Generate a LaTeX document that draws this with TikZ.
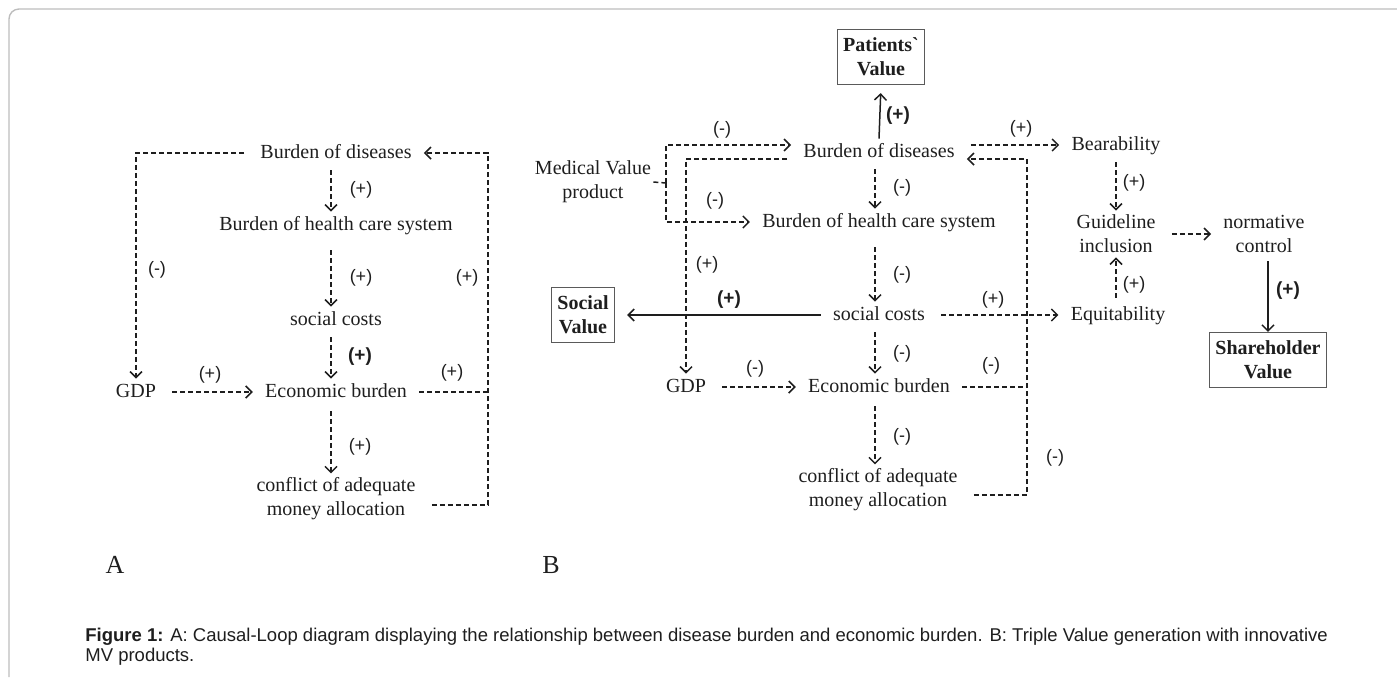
\documentclass[tikz,border=0pt]{standalone}
\usepackage{fontspec}
\setmainfont{Liberation Serif}
\setsansfont{Liberation Sans}
\definecolor{loopInk}{HTML}{1E1E1E}
\definecolor{boxGray}{HTML}{5A5A5A}
\definecolor{frameGray}{HTML}{BDBDBD}
\usetikzlibrary{arrows.meta, positioning, calc}

\begin{document}
\begin{tikzpicture}[x=0.5pt, y=-0.5pt, loopInk,
  var/.style={font=\fontsize{10}{12}\selectfont, inner xsep=6pt, inner ysep=2pt,
    text height=7pt, text depth=2pt},
  var2/.style={font=\fontsize{10}{12}\selectfont, align=center, inner xsep=6pt, inner ysep=2pt},
  sign/.style={font=\sffamily\fontsize{9}{10}\selectfont, inner sep=1pt},
  bsign/.style={font=\sffamily\bfseries\fontsize{9.5}{10}\selectfont, inner sep=1pt},
  valbox/.style={draw=boxGray, line width=0.6pt, font=\bfseries\fontsize{10}{12}\selectfont,
    align=center, inner xsep=3pt, minimum height=27.5pt},
  dashlink/.style={line width=0.75pt, dash pattern=on 2.5pt off 1.5pt},
  dasharrow/.style={dashlink, -{Straight Barb[length=3pt, width=6pt]}, shorten <=2pt},
  solidarrow/.style={line width=0.75pt, -{Straight Barb[length=3pt, width=6pt]}}]
  \useasboundingbox (0,0) rectangle (1397,677);
  \draw[frameGray, line width=0.7pt, rounded corners=5pt] (9,677) |- (1397,9);

  % A: causal loop
  \node[var] (aDis) at (336,153) {Burden of diseases};
  \node[var] (aHcs) at (336,225) {Burden of health care system};
  \node[var] (aSoc) at (336,320) {social costs};
  \node[var] (aEco) at (336,392) {Economic burden};
  \node[var] (aGdp) at (136,392) {GDP};
  \node[var2] (aCon) at (336,499) {conflict of adequate\\money allocation};
  \coordinate (aLoop) at (488,153);

  \draw[dasharrow] ([xshift=-2.5pt]aDis.south) -- ([xshift=-2.5pt]aHcs.north);
  \draw[dasharrow, shorten <=6pt] ([xshift=-2.5pt]aHcs.south) -- ([xshift=-2.5pt]aSoc.north);
  \draw[dasharrow] ([xshift=-2.5pt]aSoc.south) -- ([xshift=-2.5pt]aEco.north);
  \draw[dasharrow, shorten <=3pt] ([xshift=-2.5pt]aEco.south) -- ([xshift=-2.5pt]aCon.north);
  \draw[dasharrow] (aGdp) -- (aEco);
  \draw[dasharrow] (aDis.west) -| (aGdp.north);
  \draw[dashlink] (aEco.east) -- (aEco.east -| aLoop);
  \draw[dasharrow] ([yshift=-3pt]aCon.east) -| (aLoop) -- (aDis.east);

  \node[sign] (aS1) at (361,190) {(+)};
  \node[sign] (aS2) at (361,278) {(+)};
  \node[bsign] (aS3) at (360,357) {(+)};
  \node[sign] (aS4) at (360,447) {(+)};
  \node[sign] (aS5) at (210,375) {(+)};
  \node[sign] (aS6) at (452,373) {(+)};
  \node[sign] (aS7) at (467,278) {(+)};
  \node[sign] (aS8) at (157,270) {(-)};
  \node[font=\fontsize{13}{15}\selectfont] (aTag) at (115,565) {A};

  % B: triple value
  \node[valbox] (bPat) at (881,57) {Patients\textasciigrave\\Value};
  \node[valbox] (bSocV) at (583,315) {Social\\Value};
  \node[valbox] (bSha) at (1268,360) {Shareholder\\Value};
  \node[var] (bDis) at (879,152) {Burden of diseases};
  \node[var2, inner xsep=1pt] (bMed) at (593,182) {Medical Value\\product};
  \node[var] (bHcs) at (879,222) {Burden of health care system};
  \node[var] (bSoc) at (879,315) {social costs};
  \node[var] (bEco) at (879,387) {Economic burden};
  \node[var] (bGdp) at (686,387) {GDP};
  \node[var2] (bCon) at (878,490) {conflict of adequate\\money allocation};
  \node[var] (bBea) at (1116,145) {Bearability};
  \node[var2] (bGui) at (1116,234) {Guideline\\inclusion};
  \node[var2] (bNor) at (1264,234) {normative\\control};
  \node[var] (bEqu) at (1118,315) {Equitability};
  \coordinate (bFork) at (666,183);
  \coordinate (bLoop) at (1027,159);

  \draw[dashlink] (bMed.east) -- (bFork);
  \draw[dasharrow, shorten <=0pt] (bFork) |- ([yshift=3.5pt]bDis.west);
  \draw[dasharrow, shorten <=0pt] (bFork) |- (bHcs.west);
  \draw[dasharrow] ([yshift=-3.5pt]bDis.west) -| (bGdp.north);
  \draw[solidarrow, shorten >=4pt] (bDis.north) -- (bPat.south);
  \draw[dasharrow] ([xshift=-2pt]bDis.south) -- ([xshift=-2pt]bHcs.north);
  \draw[dasharrow, shorten <=6pt] ([xshift=-2pt]bHcs.south) -- ([xshift=-2pt]bSoc.north);
  \draw[dasharrow] ([xshift=-2pt]bSoc.south) -- ([xshift=-2pt]bEco.north);
  \draw[dasharrow, shorten <=3pt] ([xshift=-2pt]bEco.south) -- ([xshift=-1.5pt]bCon.north);
  \draw[dasharrow] (bGdp) -- (bEco);
  \draw[solidarrow, shorten >=6pt] (bSoc.west) -- (bSocV.east);
  \draw[dasharrow] (bSoc) -- (bEqu);
  \draw[dashlink] (bEco.east) -- (bEco.east -| bLoop);
  \draw[dasharrow] ([yshift=-2.5pt]bCon.east) -| (bLoop) -- ([yshift=-3.5pt]bDis.east);
  \draw[dasharrow] ([yshift=3.5pt]bDis.east) -- (bBea.west);
  \draw[dasharrow] (bBea) -- (bGui);
  \draw[dasharrow] (bGui.south |- bEqu.north) -- (bGui.south);
  \draw[dasharrow] (bGui) -- (bNor);
  \draw[solidarrow, shorten <=2pt] (bSha.north |- bNor.south) -- (bSha.north);

  \node[bsign] (bS1) at (898,116) {(+)};
  \node[sign] (bS2) at (722,130) {(-)};
  \node[sign] (bS3) at (715,201) {(-)};
  \node[sign] (bS4) at (707,265) {(+)};
  \node[sign] (bS5) at (902,188) {(-)};
  \node[sign] (bS6) at (902,275) {(-)};
  \node[bsign] (bS7) at (729,300) {(+)};
  \node[sign] (bS8) at (993,300) {(+)};
  \node[sign] (bS9) at (902,354) {(-)};
  \node[sign] (bS10) at (755,369) {(-)};
  \node[sign] (bS11) at (991,366) {(-)};
  \node[sign] (bS12) at (902,437) {(-)};
  \node[sign] (bS13) at (1055,458) {(-)};
  \node[sign] (bS14) at (1021,129) {(+)};
  \node[sign] (bS15) at (1134,183) {(+)};
  \node[sign] (bS16) at (1134,285) {(+)};
  \node[bsign] (bS17) at (1288,291) {(+)};
  \node[font=\fontsize{13}{15}\selectfont] (bTag) at (551,565) {B};

  \node[anchor=north west, align=left, inner sep=0pt, font=\sffamily\fontsize{9.25}{10}\selectfont]
    (caption) at (85,628) {\textbf{Figure 1:} A: Causal-Loop diagram displaying the relationship between disease burden and economic burden. B: Triple Value generation with innovative\\MV products.};
\end{tikzpicture}
\end{document}
